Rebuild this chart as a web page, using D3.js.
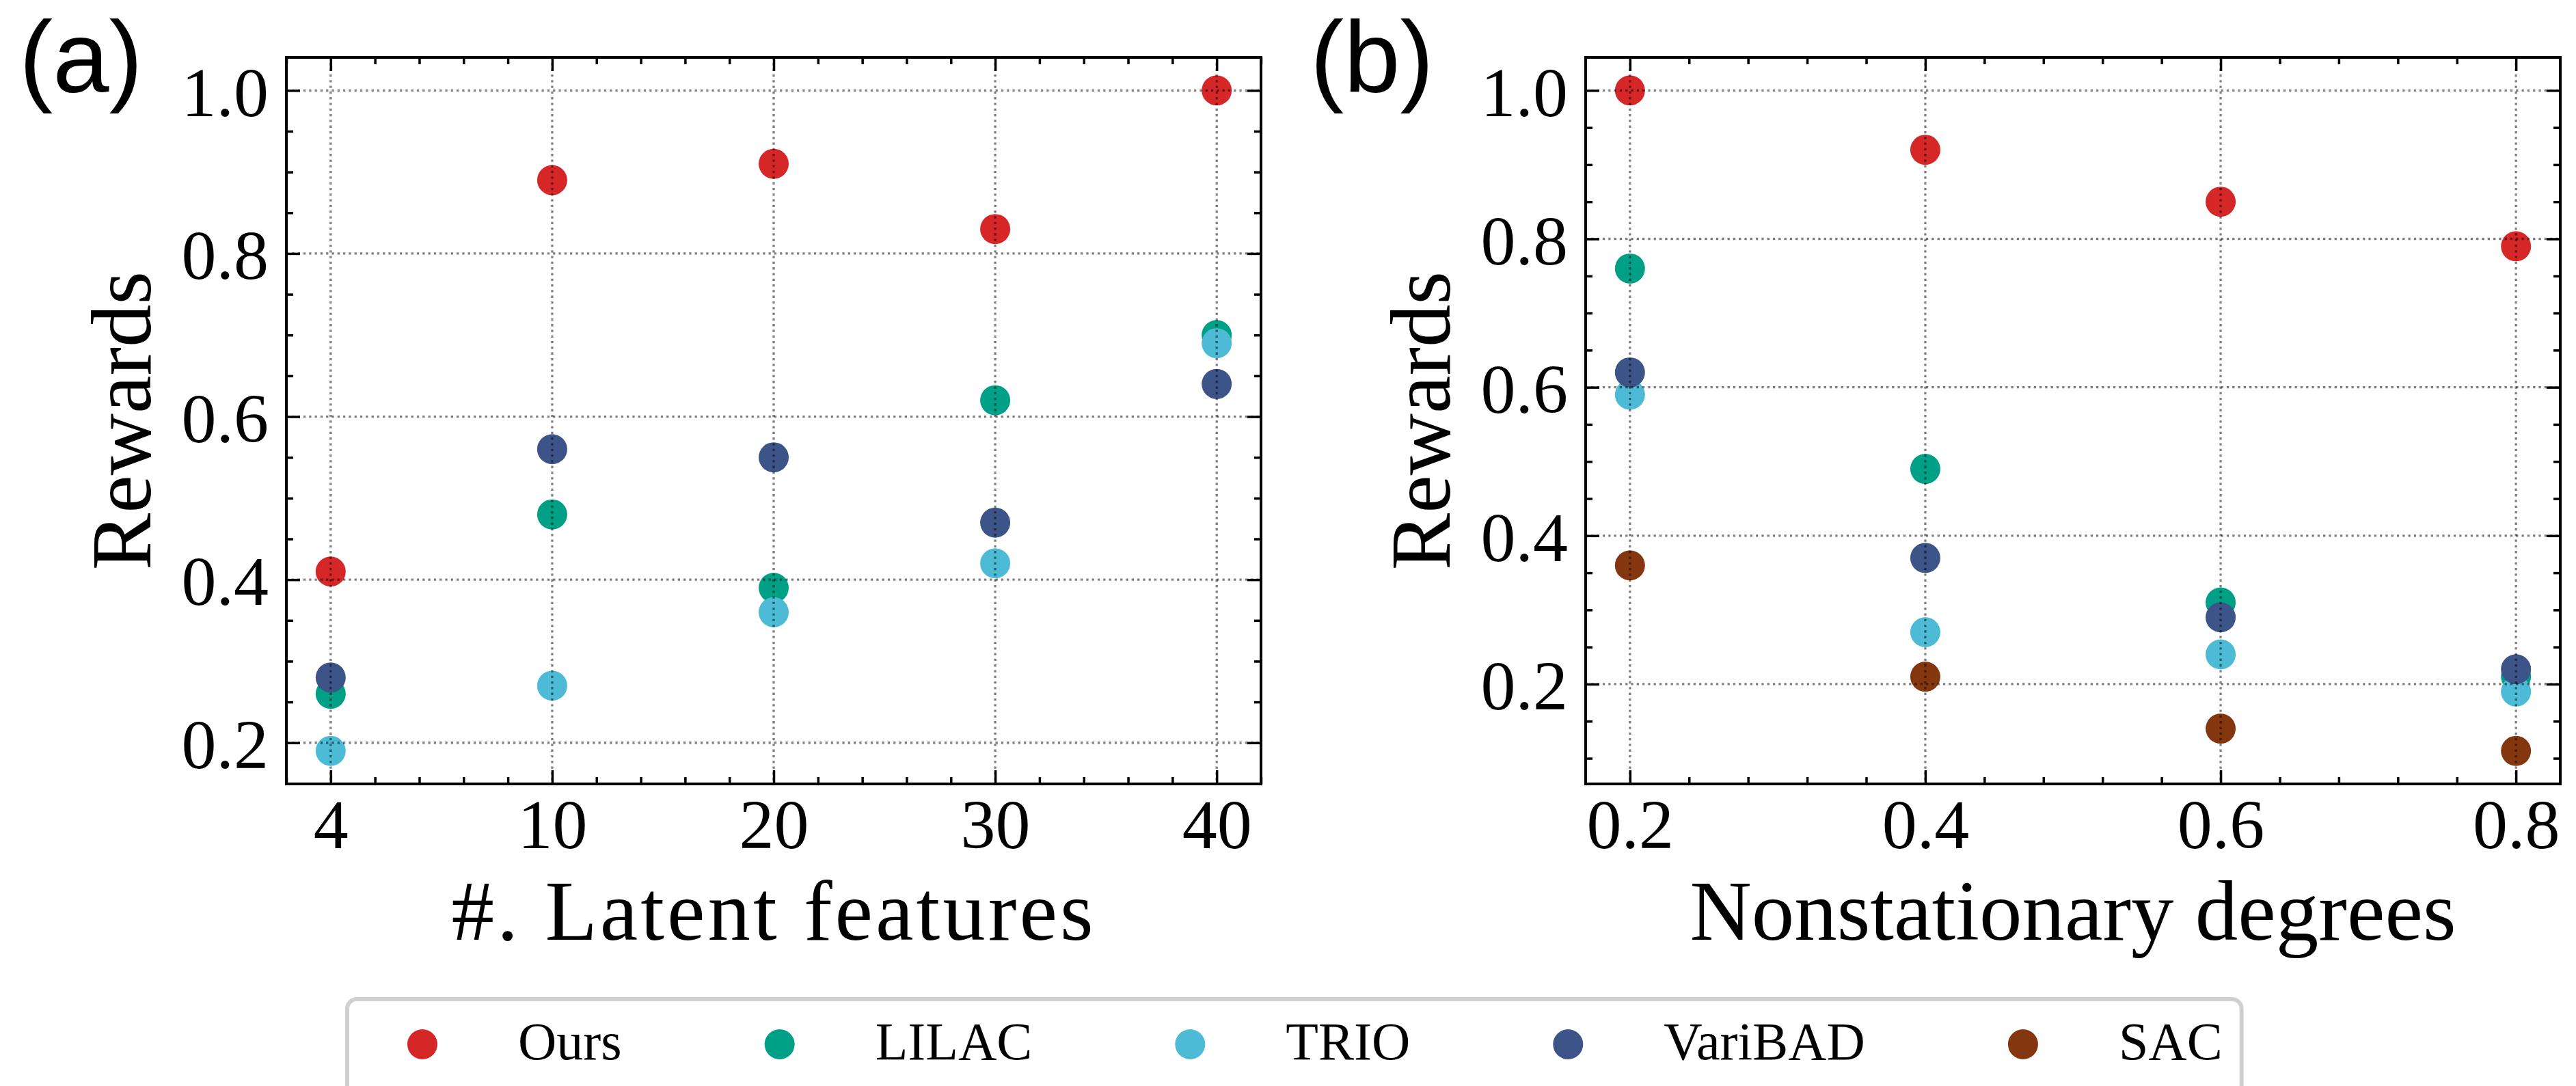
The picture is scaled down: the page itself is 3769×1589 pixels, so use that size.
<!DOCTYPE html>
<html>
<head>
<meta charset="utf-8">
<script src="https://cdn.jsdelivr.net/npm/d3@7"></script>
<style>
  html, body { margin: 0; padding: 0; background: #ffffff; }
  svg { display: block; }
</style>
</head>
<body>
<script>
// ---------------- data ----------------
const methods = ["Ours", "LILAC", "TRIO", "VariBAD", "SAC"];
const methodColors = ["#D62728", "#00A087", "#4DBBD5", "#3C5488", "#84360E"];

const featureLabels = ["4", "10", "20", "30", "40"];
const degreeLabels = ["0.2", "0.4", "0.6", "0.8"];
const rewardTicks = [0.2, 0.4, 0.6, 0.8, 1.0];

// panel (a): rewards vs #. latent features (no SAC points shown)
const rewardsA_Ours    = [0.41, 0.89, 0.91, 0.83, 1.00];
const rewardsA_LILAC   = [0.26, 0.48, 0.39, 0.62, 0.70];
const rewardsA_TRIO    = [0.19, 0.27, 0.36, 0.42, 0.69];
const rewardsA_VariBAD = [0.28, 0.56, 0.55, 0.47, 0.64];
const rewardsA_SAC     = [];

// panel (b): rewards vs nonstationary degrees
const rewardsB_Ours    = [1.00, 0.92, 0.85, 0.79];
const rewardsB_LILAC   = [0.76, 0.49, 0.31, 0.21];
const rewardsB_TRIO    = [0.59, 0.27, 0.24, 0.19];
const rewardsB_VariBAD = [0.62, 0.37, 0.29, 0.22];
const rewardsB_SAC     = [0.36, 0.21, 0.14, 0.11];

// ---------------- layout ----------------
const W = 3769, H = 1589;
const serif = "'Liberation Serif', 'Times New Roman', serif";
const sans = "'Liberation Sans', Arial, sans-serif";
const tickFont = 102, labelFont = 125, legendFont = 78, panelFont = 148;

const svg = d3.select("body").append("svg")
  .attr("width", W).attr("height", H)
  .attr("viewBox", `0 0 ${W} ${H}`);
svg.append("rect").attr("width", W).attr("height", H).attr("fill", "#fff");

const panels = [
  {
    tag: "(a)", tagX: 28,
    left: 419, right: 1845, top: 84, bottom: 1147,
    cats: featureLabels,
    series: [rewardsA_Ours, rewardsA_LILAC, rewardsA_TRIO, rewardsA_VariBAD, rewardsA_SAC],
    xlabel: "#. Latent features", xlabelSpacing: 4
  },
  {
    tag: "(b)", tagX: 1917,
    left: 2320, right: 3746, top: 84, bottom: 1147,
    cats: degreeLabels,
    series: [rewardsB_Ours, rewardsB_LILAC, rewardsB_TRIO, rewardsB_VariBAD, rewardsB_SAC],
    xlabel: "Nonstationary degrees", xlabelSpacing: 0
  }
];

panels.forEach(p => {
  const n = p.cats.length;
  const all = p.series.flat();
  const lo = d3.min(all), hi = d3.max(all);
  const m = (hi - lo) * 0.05;
  const xs = d3.scaleLinear().domain([-(n - 1) * 0.05, (n - 1) * 1.05]).range([p.left, p.right]);
  const ys = d3.scaleLinear().domain([lo - m, hi + m]).range([p.bottom, p.top]);

  const g = svg.append("g");

  // points
  p.series.forEach((vals, si) => {
    g.append("g").selectAll("circle").data(vals).join("circle")
      .attr("cx", (d, i) => xs(i))
      .attr("cy", d => ys(d))
      .attr("r", 22)
      .attr("fill", methodColors[si]);
  });

  // grid (on top of markers)
  const grid = g.append("g")
    .attr("stroke", "#000").attr("stroke-opacity", 0.5)
    .attr("stroke-width", 3.3).attr("stroke-dasharray", "3.3,5");
  grid.selectAll("line.v").data(d3.range(n)).join("line")
    .attr("x1", d => xs(d)).attr("x2", d => xs(d))
    .attr("y1", p.top).attr("y2", p.bottom);
  grid.selectAll("line.h").data(rewardTicks).join("line")
    .attr("y1", d => ys(d)).attr("y2", d => ys(d))
    .attr("x1", p.left).attr("x2", p.right);

  // minor ticks
  const xd = xs.domain(), yd = ys.domain();
  const xMinor = d3.range(Math.ceil(xd[0] / 0.2), Math.floor(xd[1] / 0.2) + 1)
    .map(k => k * 0.2).filter(v => Math.abs(v - Math.round(v)) > 1e-6);
  const yMinor = d3.range(Math.ceil(yd[0] / 0.05 - 1e-9), Math.floor(yd[1] / 0.05 + 1e-9) + 1)
    .map(k => +(k * 0.05).toFixed(4)).filter(v => Math.abs(v / 0.2 - Math.round(v / 0.2)) > 1e-6);

  const styleAxis = sel => {
    sel.select(".domain").remove();
    sel.selectAll(".tick line").attr("stroke", "#000").attr("stroke-width", 3.5);
  };

  const majorLen = 20, minorLen = 10;
  // bottom
  g.append("g").attr("transform", `translate(0,${p.bottom})`)
    .call(d3.axisBottom(xs).tickValues(d3.range(n)).tickFormat(i => p.cats[i])
      .tickSize(-majorLen).tickPadding(22))
    .call(styleAxis)
    .call(s => s.selectAll("text").attr("font-family", serif).attr("font-size", tickFont).attr("fill", "#000"));
  g.append("g").attr("transform", `translate(0,${p.bottom})`)
    .call(d3.axisBottom(xs).tickValues(xMinor).tickFormat("").tickSize(-minorLen))
    .call(styleAxis);
  // top
  g.append("g").attr("transform", `translate(0,${p.top})`)
    .call(d3.axisTop(xs).tickValues(d3.range(n)).tickFormat("").tickSize(-majorLen))
    .call(styleAxis);
  g.append("g").attr("transform", `translate(0,${p.top})`)
    .call(d3.axisTop(xs).tickValues(xMinor).tickFormat("").tickSize(-minorLen))
    .call(styleAxis);
  // left
  g.append("g").attr("transform", `translate(${p.left},0)`)
    .call(d3.axisLeft(ys).tickValues(rewardTicks).tickFormat(d3.format(".1f"))
      .tickSize(-majorLen).tickPadding(26))
    .call(styleAxis)
    .call(s => s.selectAll("text").attr("font-family", serif).attr("font-size", tickFont)
      .attr("fill", "#000").attr("dy", "0.36em"));
  g.append("g").attr("transform", `translate(${p.left},0)`)
    .call(d3.axisLeft(ys).tickValues(yMinor).tickFormat("").tickSize(-minorLen))
    .call(styleAxis);
  // right
  g.append("g").attr("transform", `translate(${p.right},0)`)
    .call(d3.axisRight(ys).tickValues(rewardTicks).tickFormat("").tickSize(-majorLen))
    .call(styleAxis);
  g.append("g").attr("transform", `translate(${p.right},0)`)
    .call(d3.axisRight(ys).tickValues(yMinor).tickFormat("").tickSize(-minorLen))
    .call(styleAxis);

  // frame
  g.append("rect")
    .attr("x", p.left).attr("y", p.top)
    .attr("width", p.right - p.left).attr("height", p.bottom - p.top)
    .attr("fill", "none").attr("stroke", "#000").attr("stroke-width", 4);

  // axis labels
  g.append("text")
    .attr("x", (p.left + p.right) / 2).attr("y", 1375)
    .attr("text-anchor", "middle")
    .attr("letter-spacing", p.xlabelSpacing)
    .attr("font-family", serif).attr("font-size", labelFont).attr("fill", "#000")
    .text(p.xlabel);
  g.append("text")
    .attr("transform", `translate(${p.left - 199},${(p.top + p.bottom) / 2}) rotate(-90)`)
    .attr("text-anchor", "middle")
    .attr("font-family", serif).attr("font-size", labelFont).attr("fill", "#000")
    .text("Rewards");

  // panel tag
  svg.append("text")
    .attr("x", p.tagX).attr("y", 135)
    .attr("font-family", sans).attr("font-size", panelFont).attr("fill", "#000")
    .text(p.tag);
});

// ---------------- legend ----------------
const legend = svg.append("g");
const legendBox = legend.append("rect")
  .attr("fill", "#fff").attr("stroke", "#d0d0d0").attr("stroke-width", 6)
  .attr("rx", 14).attr("ry", 14);
const legendY = 1528;
let cx = 618;
methods.forEach((name, i) => {
  legend.append("circle").attr("cx", cx).attr("cy", legendY).attr("r", 22)
    .attr("fill", methodColors[i]);
  const t = legend.append("text")
    .attr("x", cx + 140).attr("y", legendY + 22)
    .attr("font-family", serif).attr("font-size", legendFont).attr("fill", "#000")
    .text(name);
  const w = t.node().getComputedTextLength();
  cx = cx + 140 + w + 231;
});
const boxLeft = 508, boxRight = cx - 231 + 28;
legendBox.attr("x", boxLeft).attr("y", 1462)
  .attr("width", boxRight - boxLeft).attr("height", 160);
</script>
</body>
</html>
